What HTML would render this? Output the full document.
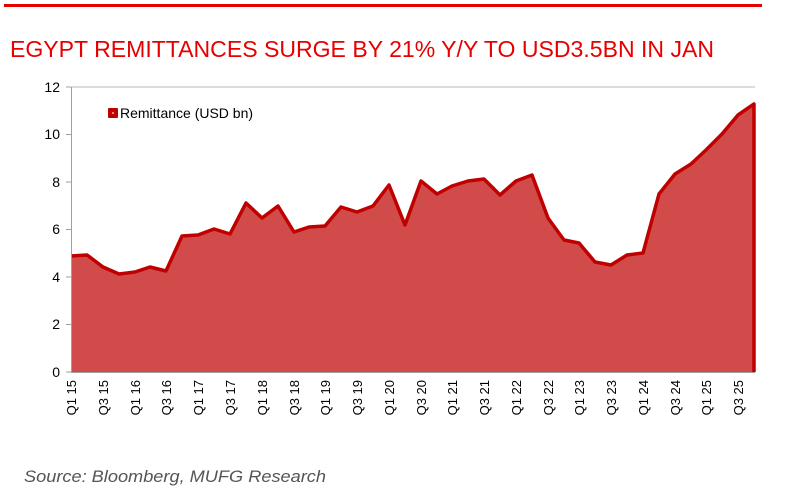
<!DOCTYPE html>
<html><head><meta charset="utf-8"><style>
body{margin:0;background:#fff;width:789px;height:495px;overflow:hidden}
svg{display:block;font-family:"Liberation Sans",sans-serif}
</style></head><body>
<svg width="789" height="495" viewBox="0 0 789 495">
<rect x="4" y="4" width="758" height="3" fill="#e60000"/>
<text x="10" y="57" font-size="23" fill="#e60000" textLength="704" lengthAdjust="spacingAndGlyphs">EGYPT REMITTANCES SURGE BY 21% Y/Y TO USD3.5BN IN JAN</text>
<line x1="71" y1="87" x2="755" y2="87" stroke="#d0d0d0" stroke-width="1.5"/>
<g font-size="14" fill="#000" text-anchor="end">
<text x="60" y="92">12</text><text x="60" y="139">10</text><text x="60" y="187">8</text>
<text x="60" y="234">6</text><text x="60" y="282">4</text><text x="60" y="329">2</text><text x="60" y="377">0</text>
</g>
<g stroke="#a0a0a0"><line x1="66" y1="87" x2="71" y2="87"/><line x1="66" y1="134.5" x2="71" y2="134.5"/><line x1="66" y1="182" x2="71" y2="182"/><line x1="66" y1="229.5" x2="71" y2="229.5"/><line x1="66" y1="277" x2="71" y2="277"/><line x1="66" y1="324.5" x2="71" y2="324.5"/><line x1="66" y1="372" x2="71" y2="372"/></g>
<polygon fill="#d24b4b" points="71,372 71,256 87,255 103,267 119,274 135,272 150,267 166,271 182,236 198,235 214,229 230,234 246,203 262,218 278,206 294,232 309,227 325,226 341,207 357,212 373,206 389,185 405,225 421,181 437,194 452,186 468,181 484,179 500,195 516,181 532,175 548,218 564,240 579,243 595,262 611,265 627,255 643,253 659,194 675,174 691,164 706,150 722,134 738,115 754,104 754,372"/>
<polyline fill="none" stroke="#c00000" stroke-width="3.5" stroke-linejoin="round" points="71,256 87,255 103,267 119,274 135,272 150,267 166,271 182,236 198,235 214,229 230,234 246,203 262,218 278,206 294,232 309,227 325,226 341,207 357,212 373,206 389,185 405,225 421,181 437,194 452,186 468,181 484,179 500,195 516,181 532,175 548,218 564,240 579,243 595,262 611,265 627,255 643,253 659,194 675,174 691,164 706,150 722,134 738,115 754,104 754,372"/>
<line x1="71.5" y1="87" x2="71.5" y2="372" stroke="#a0a0a0"/>
<line x1="71" y1="372.5" x2="755" y2="372.5" stroke="#a0a0a0"/>
<rect x="108" y="108" width="10" height="10" fill="#c00000" rx="1"/>
<rect x="112" y="112" width="2" height="2" fill="#e88"/>
<text x="120" y="118" font-size="14">Remittance (USD bn)</text>
<g font-size="13" fill="#000" text-anchor="end">
<text transform="translate(76,380) rotate(-90)">Q1 15</text>
<text transform="translate(108,380) rotate(-90)">Q3 15</text>
<text transform="translate(140,380) rotate(-90)">Q1 16</text>
<text transform="translate(171,380) rotate(-90)">Q3 16</text>
<text transform="translate(203,380) rotate(-90)">Q1 17</text>
<text transform="translate(235,380) rotate(-90)">Q3 17</text>
<text transform="translate(267,380) rotate(-90)">Q1 18</text>
<text transform="translate(299,380) rotate(-90)">Q3 18</text>
<text transform="translate(330,380) rotate(-90)">Q1 19</text>
<text transform="translate(362,380) rotate(-90)">Q3 19</text>
<text transform="translate(394,380) rotate(-90)">Q1 20</text>
<text transform="translate(426,380) rotate(-90)">Q3 20</text>
<text transform="translate(457,380) rotate(-90)">Q1 21</text>
<text transform="translate(489,380) rotate(-90)">Q3 21</text>
<text transform="translate(521,380) rotate(-90)">Q1 22</text>
<text transform="translate(553,380) rotate(-90)">Q3 22</text>
<text transform="translate(584,380) rotate(-90)">Q1 23</text>
<text transform="translate(616,380) rotate(-90)">Q3 23</text>
<text transform="translate(648,380) rotate(-90)">Q1 24</text>
<text transform="translate(680,380) rotate(-90)">Q3 24</text>
<text transform="translate(711,380) rotate(-90)">Q1 25</text>
<text transform="translate(743,380) rotate(-90)">Q3 25</text>
</g>
<text x="24" y="482" font-size="17" font-style="italic" fill="#555" textLength="302" lengthAdjust="spacingAndGlyphs">Source: Bloomberg, MUFG Research</text>
</svg>
</body></html>
